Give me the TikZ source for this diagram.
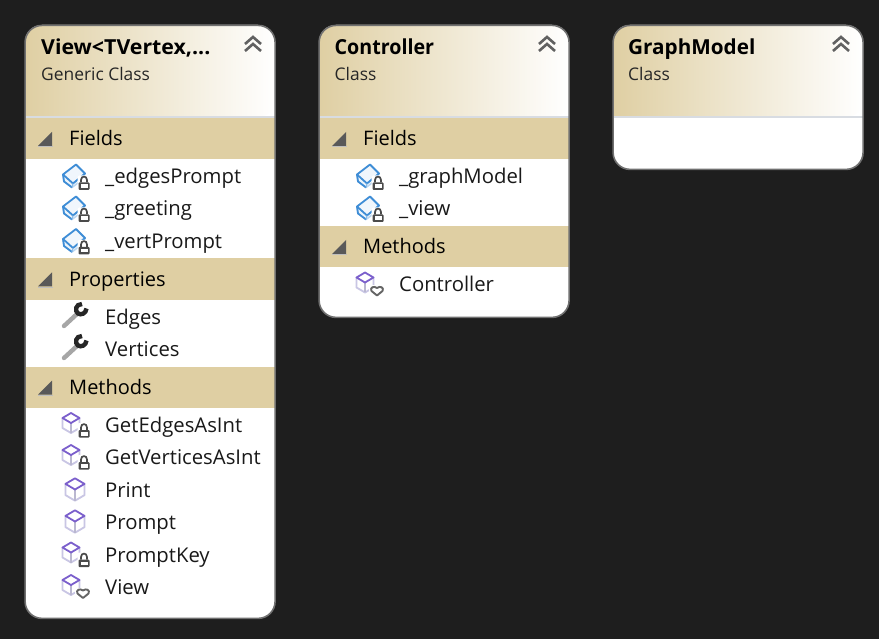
\documentclass[tikz,border=0pt]{standalone}
\usepackage{fontspec}
\setmainfont{Open Sans}
\definecolor{bgc}{HTML}{1E1E1E}
\definecolor{band}{HTML}{DFCFA3}
\definecolor{edgec}{HTML}{707070}
\definecolor{sepc}{HTML}{D8DCE2}
\definecolor{fblue}{HTML}{3E8DD6}
\definecolor{mpurple}{HTML}{7B5FCC}
\definecolor{mpale}{HTML}{C9C6E4}
\definecolor{darkg}{HTML}{4A4A4A}
\tikzset{
  x=1pt,y=-1pt,
  titletext/.style={anchor=base west,inner sep=0pt,font=\fontsize{20.7}{24}\selectfont\bfseries,text=black},
  subtext/.style={anchor=base west,inner sep=0pt,font=\fontsize{17.4}{20}\selectfont,text=black!85},
  bandtext/.style={anchor=base west,inner sep=0pt,font=\fontsize{20}{24}\selectfont,text=black},
  itemtext/.style={anchor=base west,inner sep=0pt,font=\fontsize{20.3}{24}\selectfont,text=black!90},
  lockicon/.pic={
    \fill[white,rounded corners=2pt] (-6.5,-8) rectangle (6.5,8);
    \draw[darkg,line width=1.7pt] (-3,-1) -- (-3,-3.5) .. controls (-3,-8) and (3,-8) .. (3,-3.5) -- (3,-1);
    \fill[darkg,rounded corners=1pt] (-5.5,-1) rectangle (5.5,6.5);
    \fill[white] (-3.5,1) rectangle (3.5,4.5);
  },
  hearticon/.pic={
    \fill[white] (-8,-5) rectangle (8,7);
    \draw[darkg!85,line width=1.9pt,fill=white,line join=round] (0,5) -- (-5.5,0.5) .. controls (-7.5,-3) and (-3,-5) .. (0,-2.5) .. controls (3,-5) and (7.5,-3) .. (5.5,0.5) -- cycle;
  },
  fieldicon/.pic={
    \draw[fblue!35,line width=1.5pt,fill=fblue!10,line join=round] (-12,-2) -- (-11,5) -- (-3,11) -- (9,2) -- (10,-3) -- cycle;
    \draw[fblue,line width=1.8pt,line join=round,fill=fblue!8] (-12,-2) -- (1,-12) -- (10,-3) -- (-2,7) -- cycle;
    \draw[fblue,line width=1.8pt] (-12,-2) -- (-11,5) -- (-3,11);
    \draw[fblue!60,line width=1.2pt] (-2,7) -- (-3,11);
    \pic at (9,7) {lockicon};
  },
  cubeshape/.pic={
    \draw[mpale,line width=1.8pt,line join=round] (-8.5,-5) -- (-8.5,5) -- (0,10) -- (8.5,5) -- (8.5,-5);
    \draw[mpale!80!gray,line width=1.6pt] (0,0) -- (0,10);
    \draw[mpurple,line width=1.8pt,line join=round] (-8.5,-5) -- (0,-10) -- (8.5,-5) -- (0,0) -- cycle;
  },
  methodicon/.pic={\pic[scale=1.12] at (0,-0.5) {cubeshape};},
  privmethod/.pic={\pic at (-4,-2) {cubeshape}; \pic at (9,6) {lockicon};},
  ctormethod/.pic={\pic at (-4,-2) {cubeshape}; \pic at (8,6) {hearticon};},
  wrenchicon/.pic={
    \draw[gray!70,line width=4.4pt,line cap=round] (-11,9.5) -- (2,-2.5);
    \draw[black!85,line width=4.4pt,line cap=butt] (7,-12.5) .. controls (0.5,-12.5) and (-0.5,-5.5) .. (3,-3) .. controls (6,-1) and (11,-3) .. (11.5,-8);
  },
  tricon/.pic={
    \fill[black!65] (7,-7) -- (7,7) -- (-7,7) -- cycle;
    \draw[white!75!black,line width=0.8pt] (7.5,7.5) -- (-7,7.5);
  },
  chevicon/.pic={
    \draw[black!62,line width=2.6pt] (-8,0) -- (0,-7) -- (8,0);
    \draw[black!62,line width=2.6pt] (-8,7) -- (0,0) -- (8,7);
  },
}
\newcommand{\cardbody}[4]{% name, left x, bottom y, header bottom y
  \fill[white,rounded corners=17pt] (#2,25) rectangle ({#2+250},#3);
  \path[left color=band,right color=white,rounded corners=17pt] (#2,117) -- (#2,25) -- ({#2+250},25) -- ({#2+250},117) [sharp corners] -- cycle;
  \fill[white] (#2,117) rectangle ({#2+250},#4);
  \draw[sepc,line width=1.4pt] (#2,117.2) -- ({#2+250},117.2);
}
\newcommand{\cardedge}[3]{%
  \node[draw=edgec,line width=1.6pt,rounded corners=17pt,inner sep=0pt,minimum width=250pt,minimum height={(#3-25)*1pt},anchor=north west] (#1) at ({#2-0.7},24.6) {};
  \pic at ({#2+228},44) {chevicon};
}
\newcommand{\bandrow}[4]{% name, left x, top y, text
  \fill[band] (#2,#3) rectangle ({#2+250},{#3+41.5});
  \pic at ({#2+20},{#3+21}) {tricon};
  \node[bandtext] (#1) at ({#2+44},{#3+28}) {#4};
}
\newcommand{\itemrow}[5]{% name, left x, center y, icon, text
  \pic at ({#2+50},#3) {#4};
  \node[itemtext] (#1) at ({#2+80},{#3+7.5}) {#5};
}
\begin{document}
\begin{tikzpicture}
\useasboundingbox (0,0) rectangle (879,639);
\fill[bgc] (0,0) rectangle (879,639);
% View card
\cardbody{view}{25}{618}{118}
\node[titletext,xscale=1.03] (viewtitle) at (41,55) {View<TVertex,...};
\node[subtext] (viewsub) at (41,81) {Generic Class};
\bandrow{vf}{25}{118}{Fields}
\itemrow{vf1}{25}{176.5}{fieldicon}{\_edgesPrompt}
\itemrow{vf2}{25}{208.5}{fieldicon}{\_greeting}
\itemrow{vf3}{25}{241}{fieldicon}{\_vertPrompt}
\bandrow{vp}{25}{258.5}{Properties}
\itemrow{vp1}{25}{316.5}{wrenchicon}{Edges}
\itemrow{vp2}{25}{348.5}{wrenchicon}{Vertices}
\bandrow{vm}{25}{366.5}{Methods}
\itemrow{vm1}{25}{425}{privmethod}{GetEdgesAsInt}
\itemrow{vm2}{25}{457}{privmethod}{GetVerticesAsInt}
\itemrow{vm3}{25}{490}{methodicon}{Print}
\itemrow{vm4}{25}{522}{methodicon}{Prompt}
\itemrow{vm5}{25}{554.5}{privmethod}{PromptKey}
\itemrow{vm6}{25}{587}{ctormethod}{View}
\cardedge{viewcard}{25}{618}
% Controller card
\cardbody{ctrl}{319}{317}{118}
\node[titletext,xscale=0.95] (ctrltitle) at (334.5,55) {Controller};
\node[subtext] (ctrlsub) at (334.5,81) {Class};
\bandrow{cf}{319}{118}{Fields}
\itemrow{cf1}{319}{176.5}{fieldicon}{\_graphModel}
\itemrow{cf2}{319}{208.5}{fieldicon}{\_view}
\bandrow{cm}{319}{226}{Methods}
\itemrow{cm1}{319}{284.5}{ctormethod}{Controller}
\cardedge{ctrlcard}{319}{317}
% GraphModel card
\cardbody{gm}{613}{169}{118}
\node[titletext] (gmtitle) at (628,55) {GraphModel};
\node[subtext] (gmsub) at (628,81) {Class};
\cardedge{gmcard}{613}{169}
\end{tikzpicture}
\end{document}
